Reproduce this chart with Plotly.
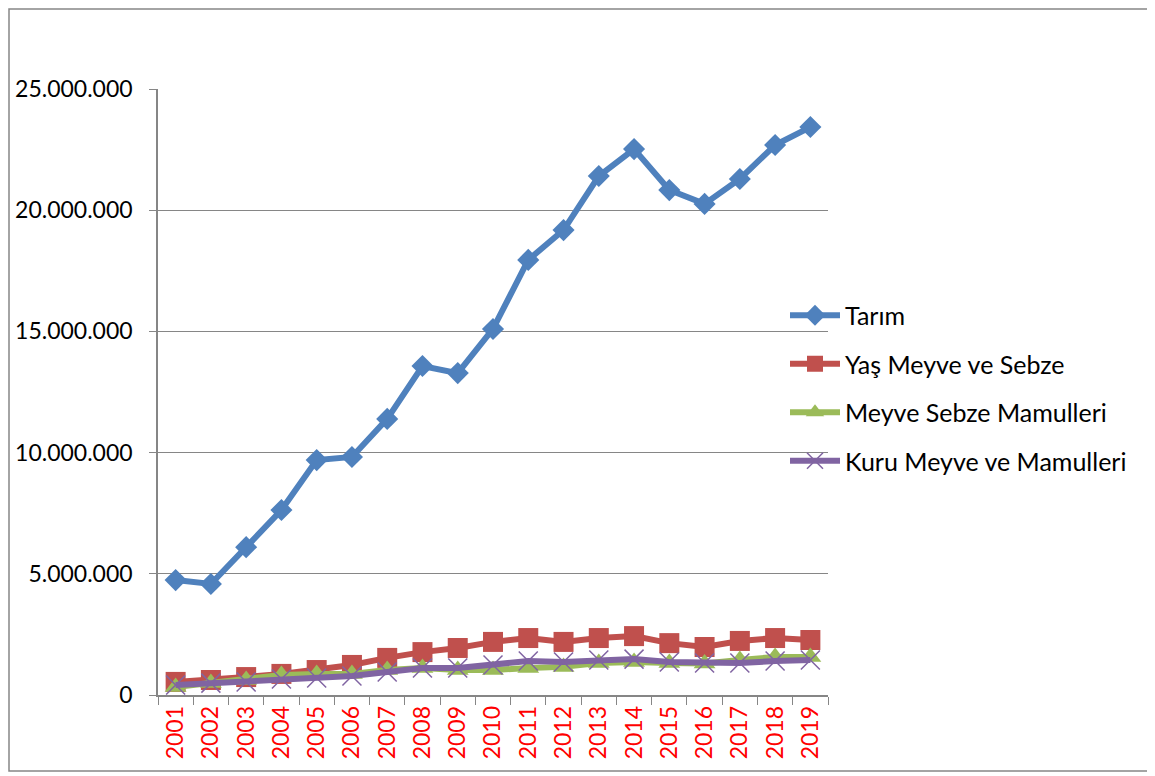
import plotly.graph_objects as go

years = [str(y) for y in range(2001, 2020)]
tarim = [4.74, 4.58, 6.10, 7.63, 9.69, 9.82, 11.39, 13.57, 13.28, 15.10, 17.95, 19.18, 21.41, 22.52, 20.83, 20.26, 21.29, 22.69, 23.43]
yas_meyve = [0.54, 0.62, 0.74, 0.87, 1.03, 1.24, 1.53, 1.77, 1.94, 2.19, 2.35, 2.19, 2.35, 2.43, 2.14, 1.98, 2.23, 2.35, 2.27]
mamul = [0.33, 0.50, 0.62, 0.83, 0.87, 0.87, 1.03, 1.11, 1.03, 1.03, 1.11, 1.16, 1.32, 1.36, 1.32, 1.30, 1.44, 1.57, 1.57]
kuru = [0.41, 0.49, 0.54, 0.66, 0.70, 0.78, 0.95, 1.11, 1.11, 1.24, 1.40, 1.36, 1.44, 1.48, 1.36, 1.32, 1.32, 1.40, 1.44]

names = ["Tarım", "Yaş Meyve ve Sebze", "Meyve Sebze Mamulleri", "Kuru Meyve ve Mamulleri"]
colors = ["#4F81BD", "#C0504D", "#9BBB59", "#8064A2"]
symbols = ["diamond", "square", "triangle-up", "x-thin"]
sizes = [17, 20, 19, 19]
series = [tarim, yas_meyve, mamul, kuru]

fig = go.Figure()
for n, c, s, sz, vals in zip(names, colors, symbols, sizes, series):
    marker = dict(symbol=s, size=sz, color=c)
    if s == "x-thin":
        marker["line"] = dict(color=c, width=1.5)
    fig.add_trace(go.Scatter(
        x=years, y=[v * 1e6 for v in vals], name=n, legendgroup=n,
        mode="lines+markers", line=dict(color=c, width=6), marker=marker,
    ))

OFF = 8  # page body margin
FW, FH = 1155 - OFF, 776 - OFF
L, R, T, B = 158 - OFF, 828 - OFF, 89 - OFF, 695 - OFF
W, H = R - L, B - T

fig.update_layout(
    width=FW, height=FH,
    margin=dict(l=L, r=FW - R, t=T, b=FH - B, autoexpand=False),
    paper_bgcolor="white", plot_bgcolor="white",
    separators=",.",
    font=dict(family="Lato, Open Sans, sans-serif", size=23, color="black"),
    showlegend=True,
    legend=dict(x=(785 - OFF - L) / W, y=(B - (388 - OFF)) / H, xanchor="left", yanchor="middle",
                font=dict(size=25), tracegroupgap=13, traceorder="grouped",
                bgcolor="rgba(255,255,255,0)", itemwidth=50),
    xaxis=dict(type="category", range=[-0.5, len(years) - 0.5], tickson="boundaries",
               ticks="outside", ticklen=8,
               tickcolor="#868686", showline=True, linecolor="#868686", linewidth=1.5,
               showgrid=False, tickangle=-90, tickfont=dict(color="red", size=23),
               automargin=False),
    yaxis=dict(range=[0, 25e6], dtick=5e6, tickformat=",d", ticks="outside", ticklen=7,
               tickcolor="#868686", showline=True, linecolor="#868686", linewidth=1.5,
               showgrid=True, gridcolor="#868686", gridwidth=1, zeroline=False,
               ticklabelstandoff=12, tickfont=dict(size=23), automargin=False),
    shapes=[dict(type="rect", xref="paper", yref="paper",
                 x0=(1 - L) / W, x1=(1149 - OFF - L) / W,
                 y0=(B - (771 - OFF)) / H, y1=(B - 1) / H,
                 line=dict(color="#868686", width=1.5))],
)

fig.write_html("out.html")
